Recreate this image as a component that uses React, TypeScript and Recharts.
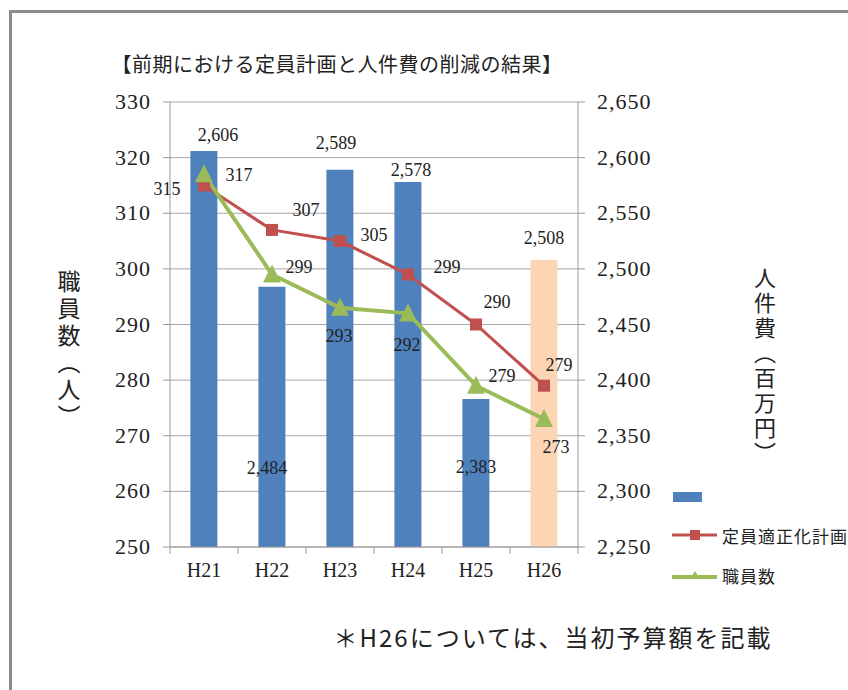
import {
  ComposedChart,
  Bar,
  Line,
  XAxis,
  YAxis,
  CartesianGrid,
  LabelList,
  Cell,
  Customized,
} from 'recharts'

const categories = ['H21', 'H22', 'H23', 'H24', 'H25', 'H26']
const personnelCost = [2606, 2484, 2589, 2578, 2383, 2508]
const staffPlan = [315, 307, 305, 299, 290, 279]
const staffCount = [317, 299, 293, 292, 279, 273]

const leftTicks = [250, 260, 270, 280, 290, 300, 310, 320, 330]
const rightTicks = [2250, 2300, 2350, 2400, 2450, 2500, 2550, 2600, 2650]

// label nudges (dx, dy) from each mark, as placed in the original
const costShift = [[14, -16], [-5, 181], [-4, -27], [3, -12], [0, 68], [0, -22]]
const planShift = [[-37, 4], [34, -20], [34, -6], [39, -7], [21, -23], [15, -21]]
const staffShift = [[35, 1], [27, -7], [-1, 28], [-1, 32], [26, -10], [12, 28]]

const data = categories.map((name, i) => ({
  name,
  cost: personnelCost[i],
  plan: staffPlan[i],
  staff: staffCount[i],
}))

const W = 836
const H = 680
const PLOT_LEFT = 158
const PLOT_RIGHT = 566
const BAND = (PLOT_RIGHT - PLOT_LEFT) / categories.length

const BLUE = '#4F81BD'
const PEACH = '#FCD5B5'
const RED = '#C0504D'
const GREEN = '#9BBB59'
const AXIS = '#999999'
const SERIF = '"Liberation Serif", serif'
const JP = '"Noto Sans CJK JP", sans-serif'

const fmt = (v: number) => v.toLocaleString('en-US')

function XTick(props: any) {
  const { x, y, payload, index } = props
  const left = x - BAND / 2
  return (
    <g>
      <line x1={left} y1={y - 7} x2={left} y2={y} stroke={AXIS} />
      {index === categories.length - 1 && (
        <line x1={left + BAND} y1={y - 7} x2={left + BAND} y2={y} stroke={AXIS} />
      )}
      <text x={x} y={y + 23} textAnchor="middle" fontFamily={SERIF} fontSize={20} fill="#222">
        {payload.value}
      </text>
    </g>
  )
}

function YTick(props: any) {
  const { x, y, payload, orientation } = props
  const right = orientation === 'right'
  return (
    <text
      x={x}
      y={y}
      dy={7}
      textAnchor={right ? 'start' : 'end'}
      fontFamily={SERIF}
      fontSize={22}
      letterSpacing={1}
      fill="#222"
    >
      {right ? fmt(payload.value) : payload.value}
    </text>
  )
}

const makeLabel = (shift: number[][], isBar: boolean) => (props: any) => {
  const { x, y, width, value, index } = props
  const [dx, dy] = shift[index] || [0, 0]
  const cx = Number(x) + (isBar ? Number(width) / 2 : 0) + dx
  const cy = Number(y) + dy
  return (
    <text
      key={`l-${index}`}
      x={cx}
      y={cy}
      textAnchor="middle"
      dominantBaseline="central"
      fontFamily={SERIF}
      fontSize={18}
      fill="#222"
    >
      {isBar ? fmt(Number(value)) : value}
    </text>
  )
}

const squareDot = (props: any) => {
  const { cx, cy, index } = props
  return <rect key={`s-${index}`} x={cx - 6} y={cy - 6} width={12} height={12} fill={RED} />
}

const triangleDot = (props: any) => {
  const { cx, cy, index } = props
  return (
    <path
      key={`t-${index}`}
      d={`M${cx},${cy - 10} L${cx + 9},${cy + 8} L${cx - 9},${cy + 8} Z`}
      fill={GREEN}
    />
  )
}

function Extras() {
  return (
    <g>
      <text x={325} y={50} textAnchor="middle" dominantBaseline="central" fontFamily={JP} fontSize={20} letterSpacing={0.5} fill="#222">
        【前期における定員計画と人件費の削減の結果】
      </text>
      <text
        x={57}
        y={338}
        textAnchor="middle"
        fontFamily={JP}
        fontSize={23}
        letterSpacing={4}
        fill="#222"
        style={{ writingMode: 'vertical-rl' }}
      >
        職員数（人）
      </text>
      <text
        x={753}
        y={354}
        textAnchor="middle"
        fontFamily={JP}
        fontSize={22}
        letterSpacing={3}
        fill="#222"
        style={{ writingMode: 'vertical-rl' }}
      >
        人件費（百万円）
      </text>
      {/* legend */}
      <rect x={661} y={479} width={29} height={10} fill={BLUE} />
      <line x1={660} y1={522} x2={705} y2={522} stroke={RED} strokeWidth={3} />
      <rect x={678} y={517} width={10} height={10} fill={RED} />
      <text x={710} y={522} dominantBaseline="central" fontFamily={JP} fontSize={17} letterSpacing={1} fill="#222">
        定員適正化計画
      </text>
      <line x1={660} y1={564} x2={705} y2={564} stroke={GREEN} strokeWidth={4} />
      <path d="M683,558 L688,566 L678,566 Z" fill={GREEN} />
      <text x={710} y={562} dominantBaseline="central" fontFamily={JP} fontSize={17} letterSpacing={1} fill="#222">
        職員数
      </text>
      <text x={541} y={623} textAnchor="middle" dominantBaseline="central" fontFamily={JP} fontSize={24} letterSpacing={2} fill="#222">
        ＊H26については、当初予算額を記載
      </text>
    </g>
  )
}

export default function App() {
  return (
    <div
      style={{
        position: 'fixed',
        left: 9,
        top: 10,
        width: W,
        height: H,
        borderTop: '3px solid #8c8c8c',
        borderLeft: '3px solid #8c8c8c',
        background: '#fff',
        overflow: 'hidden',
      }}
    >
      <ComposedChart width={W} height={H} data={data} margin={{ top: 89, right: 0, bottom: 116, left: 0 }} barCategoryGap="30%">
        <CartesianGrid vertical={false} stroke="#a6a6a6" />
        <XAxis
          dataKey="name"
          height={30}
          tickLine={false}
          tickSize={7}
          tickMargin={0}
          axisLine={{ stroke: AXIS }}
          tick={<XTick />}
          interval={0}
        />
        <YAxis
          width={PLOT_LEFT}
          domain={[250, 330]}
          ticks={leftTicks}
          interval={0}
          tickSize={7}
          tickMargin={12}
          axisLine={{ stroke: AXIS }}
          tickLine={{ stroke: AXIS }}
          tick={<YTick orientation="left" />}
        />
        <YAxis
          yAxisId="right"
          orientation="right"
          width={W - PLOT_RIGHT}
          domain={[2250, 2650]}
          ticks={rightTicks}
          interval={0}
          tickSize={7}
          tickMargin={12}
          axisLine={{ stroke: AXIS }}
          tickLine={{ stroke: AXIS }}
          tick={<YTick orientation="right" />}
        />
        <Bar yAxisId="right" dataKey="cost" name="" isAnimationActive={false}>
          {data.map((d, i) => (
            <Cell key={d.name} fill={i === data.length - 1 ? PEACH : BLUE} />
          ))}
          <LabelList dataKey="cost" content={makeLabel(costShift, true)} />
        </Bar>
        <Line
          dataKey="plan"
          name="定員適正化計画"
          stroke={RED}
          strokeWidth={3}
          dot={squareDot}
          activeDot={false}
          isAnimationActive={false}
        >
          <LabelList dataKey="plan" content={makeLabel(planShift, false)} />
        </Line>
        <Line
          dataKey="staff"
          name="職員数"
          stroke={GREEN}
          strokeWidth={4}
          dot={triangleDot}
          activeDot={false}
          isAnimationActive={false}
        >
          <LabelList dataKey="staff" content={makeLabel(staffShift, false)} />
        </Line>
        <Customized component={Extras} />
      </ComposedChart>
    </div>
  )
}
